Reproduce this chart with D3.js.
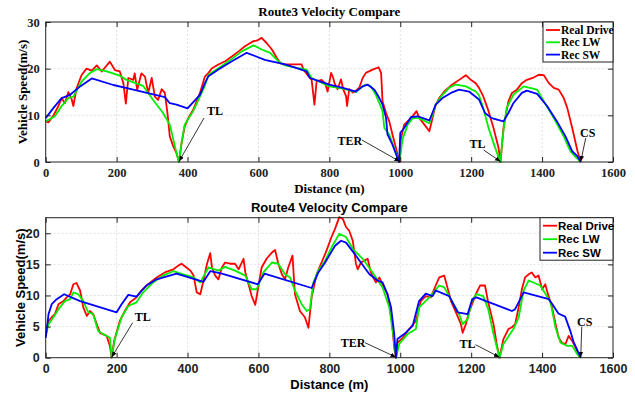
<!DOCTYPE html>
<html>
<head>
<meta charset="utf-8">
<script src="https://cdn.jsdelivr.net/npm/d3@7"></script>
<style>
  body { margin: 0; background: #fff; }
  .serif text { font-family: "Liberation Serif", "Times New Roman", serif; font-weight: bold; }
  .sans text { font-family: "Liberation Sans", Arial, sans-serif; font-weight: bold; }
</style>
</head>
<body>
<div id="chart"></div>
<script>
// ---- Route3 data: [distance (m), speed (m/s)] ----
const route3Real = [
  [0, 8.7], [8, 8.5], [22, 10], [36, 12], [45, 13.7], [54, 12.6], [64, 15], [73, 13.5], [78, 12],
  [87, 15.8], [101, 18.6], [115, 20], [130, 19.6], [144, 20.7], [158, 19.4], [181, 21.5], [195, 19.7],
  [209, 19.4], [219, 16.9], [226, 12.5], [233, 18], [247, 17.6], [251, 19], [258, 15.5], [270, 19],
  [280, 18.3], [289, 14.8], [299, 18], [308, 14], [317, 13.3], [327, 15.6], [336, 14.8], [344, 10.1],
  [350, 5.5], [360, 3.3], [369, 1.9], [376, 0], [383, 4], [392, 7.6], [402, 9.4], [416, 11.2],
  [435, 14.8], [449, 18.3], [459, 19.1], [469, 20.1], [487, 20.9], [506, 21.6], [525, 22.6],
  [544, 23.7], [562, 24.8], [577, 25.5], [586, 25.9], [595, 26], [609, 26.6], [623, 25.5],
  [638, 24.1], [652, 22.3], [661, 21.2], [675, 20.9], [722, 20.9], [727, 19.8], [741, 18.4],
  [750, 17.6], [758, 12.3], [764, 17.3], [778, 17.6], [788, 16.9], [795, 15.1], [805, 19.1],
  [811, 18], [814, 17], [823, 15.6], [833, 17.7], [839, 15.6], [847, 14.1], [850, 12], [856, 15.6],
  [866, 14.9], [875, 15.3], [885, 16], [894, 18], [903, 19.1], [922, 19.8], [939, 20.3], [946, 19.1],
  [950, 13], [960, 10.5], [969, 8.7], [978, 5.9], [988, 3], [997, 0.1], [999, 0], [1002, 5],
  [1011, 8], [1030, 9.4], [1046, 10.9], [1053, 9.5], [1068, 8], [1082, 6.6], [1091, 9.4],
  [1100, 12.3], [1110, 13.7], [1124, 15.1], [1147, 16.6], [1166, 17.6], [1185, 18.6], [1199, 17.6],
  [1213, 16.9], [1222, 15.9], [1234, 14.1], [1249, 10.9], [1263, 7.3], [1277, 3.1], [1283, 0],
  [1291, 7.3], [1305, 13], [1315, 14.8], [1329, 15.5], [1343, 16.9], [1357, 17.6], [1376, 18.1],
  [1391, 18.7], [1405, 18.6], [1419, 16.9], [1433, 15.9], [1447, 15.5], [1461, 13.7], [1471, 11.6],
  [1485, 7.3], [1500, 2.3], [1509, 0]
];
const route3LW = [
  [0, 8.7], [12, 9.2], [26, 9.8], [45, 12], [64, 13.7], [78, 14], [101, 17.2], [125, 19.1],
  [144, 19.9], [172, 19.4], [209, 18.5], [228, 17.6], [275, 16.3], [303, 13.3], [331, 10.5],
  [350, 8], [360, 4.8], [369, 1.9], [376, 0], [383, 4], [392, 8], [416, 10.9], [444, 15.5],
  [450, 16.6], [459, 18.7], [487, 20.1], [525, 22.1], [553, 23.7], [586, 25], [609, 24.1],
  [633, 23.4], [656, 21.6], [675, 20.7], [713, 20.1], [736, 19.8], [750, 18], [769, 17.3],
  [800, 16.2], [838, 15.7], [875, 15], [889, 15.9], [903, 16.6], [917, 16.2], [931, 14.4],
  [941, 12.6], [950, 10.9], [955, 7.3], [969, 5.9], [983, 3], [997, 0], [1007, 5], [1021, 8],
  [1035, 9.4], [1053, 9.4], [1072, 8.7], [1082, 8.3], [1091, 10.1], [1100, 12.3], [1119, 14.4],
  [1138, 15.9], [1157, 16.6], [1185, 16.2], [1213, 15.1], [1222, 14.3], [1234, 11.6], [1249, 7.3],
  [1263, 4.1], [1282, 0], [1291, 6.6], [1300, 11.6], [1319, 14.4], [1348, 16.2], [1386, 15.5],
  [1405, 13], [1433, 9.4], [1461, 5.5], [1480, 2.3], [1490, 1.4], [1509, 0]
];
const route3SW = [
  [0, 9.4], [22, 11.6], [45, 13.7], [69, 14.4], [97, 16.2], [130, 17.9], [191, 16.5], [247, 15.5],
  [336, 13.9], [350, 12.6], [369, 12.3], [400, 11.5], [435, 14.4], [449, 16.9], [459, 18.4],
  [487, 19.8], [525, 21.6], [567, 23.4], [618, 21.9], [675, 20.9], [736, 19.4], [745, 18],
  [769, 17.4], [800, 16.6], [838, 15.9], [875, 15.1], [894, 16.2], [908, 16.6], [927, 15.5],
  [941, 13.7], [950, 12.3], [960, 9.4], [964, 5.9], [978, 3.7], [992, 0.9], [997, 0], [1000, 6.2],
  [1011, 7.3], [1030, 9.6], [1049, 9.8], [1082, 8.9], [1091, 10.6], [1100, 12.3], [1119, 13.7],
  [1143, 14.8], [1166, 15.5], [1194, 15.1], [1222, 13.4], [1239, 10.5], [1258, 9.4], [1291, 8.7],
  [1305, 10.5], [1319, 12.6], [1343, 14.8], [1357, 15.3], [1386, 14.6], [1414, 12], [1442, 8.7],
  [1466, 5.5], [1485, 2.3], [1500, 1.2], [1509, 0]
];

// ---- Route4 data ----
const route4Real = [
  [0, 3.5], [8, 5.9], [17, 6.5], [26, 7], [36, 8.6], [50, 9.1], [59, 9.7], [69, 10.2], [78, 11.8],
  [87, 12], [97, 10.8], [106, 8.1], [116, 6.7], [125, 7.5], [134, 7], [144, 5.4], [153, 4],
  [172, 3.5], [181, 1.9], [186, 0], [193, 2.7], [209, 5.9], [223, 7.5], [238, 8.9], [256, 9.7],
  [270, 10.8], [289, 11.8], [313, 12.9], [336, 13.7], [360, 14.2], [374, 14.8], [383, 15.1],
  [397, 14.5], [408, 14], [417, 13.2], [426, 10.5], [436, 10.2], [445, 12.4], [455, 15.1],
  [464, 16.8], [469, 14.5], [478, 13.2], [487, 12.6], [497, 14.5], [506, 15.3], [520, 15.1],
  [534, 15.1], [544, 14.2], [558, 15.9], [563, 13.7], [572, 11.8], [581, 9.9], [591, 8.5],
  [598, 10.8], [609, 14.5], [623, 15.9], [638, 16.9], [647, 17.3], [656, 15.1], [666, 13.4],
  [675, 12.6], [684, 14.5], [696, 16.4], [703, 10.2], [717, 7.5], [731, 6.5], [741, 4.8],
  [750, 9.7], [764, 13.4], [778, 15.3], [792, 17.2], [806, 19.4], [816, 20.7], [828, 22.6],
  [838, 22.3], [847, 21], [856, 20.4], [866, 18.8], [875, 15.1], [880, 14.2], [889, 15.3],
  [899, 15.6], [908, 15.9], [917, 13.7], [931, 12.1], [941, 12.9], [950, 11.8], [964, 10.2],
  [974, 7], [978, 4.8], [983, 1.6], [988, 0], [992, 2.4], [1007, 3.2], [1025, 4.6], [1044, 5.9],
  [1058, 9.1], [1072, 9.9], [1086, 9.7], [1100, 11.6], [1110, 12.9], [1124, 13.2], [1133, 11.3],
  [1143, 9.1], [1157, 7.3], [1171, 5.4], [1176, 4], [1185, 5.4], [1194, 7.3], [1213, 10.2],
  [1225, 11.6], [1239, 11.6], [1248, 8.9], [1263, 5.4], [1272, 2.2], [1280, 0], [1291, 3],
  [1305, 4.6], [1315, 4.9], [1324, 5.4], [1334, 8.1], [1343, 11], [1352, 12.9], [1362, 13.4],
  [1371, 13.7], [1381, 12.9], [1390, 13.2], [1400, 11], [1409, 11.8], [1415, 10.5], [1428, 8.1],
  [1438, 5.4], [1447, 3.2], [1456, 2.4], [1466, 2.2], [1475, 3.5], [1485, 2.7], [1495, 1.6],
  [1504, 0.3], [1509, 0]
];
const route4LW = [
  [0, 3.5], [8, 5.4], [22, 6.5], [36, 7.8], [54, 9.1], [69, 9.4], [78, 10.5], [92, 10.2],
  [106, 9.1], [120, 7.3], [134, 7], [148, 4.3], [162, 3.8], [181, 3.2], [186, 0], [195, 3],
  [214, 6.5], [233, 8.3], [256, 8.9], [275, 10.5], [303, 12.1], [331, 13.2], [360, 13.9],
  [388, 13.4], [417, 12.9], [436, 12.1], [459, 14.5], [487, 14], [506, 14.6], [534, 14],
  [563, 13.2], [581, 11], [595, 11], [614, 13.7], [638, 15.3], [656, 15.1], [675, 13.4],
  [689, 12.9], [703, 10.8], [722, 8.6], [736, 7.5], [745, 7.8], [755, 12.1], [769, 14],
  [788, 15.6], [806, 17.7], [828, 19.9], [847, 19.4], [866, 17.5], [894, 15.9], [922, 13.7],
  [950, 11.3], [969, 8.1], [980, 3.8], [988, 0], [997, 2.2], [1021, 3.8], [1044, 4.6],
  [1053, 8.1], [1082, 9.7], [1110, 11.6], [1124, 11.3], [1143, 9.4], [1166, 7], [1176, 5.4],
  [1190, 6.2], [1203, 9.4], [1215, 10.2], [1234, 9.9], [1248, 7.8], [1263, 3.8], [1280, 0],
  [1291, 2.2], [1319, 4.6], [1334, 6.5], [1348, 10.8], [1362, 12.4], [1395, 11.6], [1424, 8.9],
  [1438, 4.8], [1452, 2.4], [1471, 1.9], [1485, 1.9], [1500, 0.5], [1509, 0]
];
const route4SW = [
  [0, 3.2], [8, 7], [17, 8.6], [31, 9.4], [52, 10.2], [97, 9.1], [200, 7.3], [214, 8.6],
  [233, 10.1], [256, 9.8], [284, 11.6], [313, 12.6], [369, 13.5], [445, 12.2], [464, 13.9],
  [497, 13.5], [598, 11.8], [617, 13.5], [750, 11.2], [769, 13.7], [788, 15.3], [816, 18],
  [833, 18.8], [847, 18.5], [875, 16.4], [913, 13.4], [936, 12.4], [950, 12.1], [964, 10.2],
  [974, 8.1], [983, 3.8], [988, 0], [992, 3], [1011, 3.8], [1035, 5.1], [1053, 9.1], [1072, 10.3],
  [1091, 9.9], [1100, 10.8], [1138, 9.9], [1162, 7.3], [1190, 7], [1203, 9.4], [1215, 9.7],
  [1315, 7.5], [1324, 7.8], [1348, 10.5], [1419, 9.4], [1430, 8.5], [1446, 7.1], [1465, 6.6],
  [1479, 4.4], [1489, 2.5], [1509, 0]
];

// stop annotations: label and stop distance (m)
const route3Stops = [["TL", 376], ["TER", 999], ["TL", 1283], ["CS", 1509]];
const route4Stops = [["TL", 186], ["TER", 988], ["TL", 1280], ["CS", 1509]];

const seriesNames = ["Real Drive", "Rec LW", "Rec SW"];
const seriesColors = ["#ff0000", "#00ee00", "#0000ff"];
const xTicks = [0, 200, 400, 600, 800, 1000, 1200, 1400, 1600];
const route3YTicks = [0, 10, 20, 30];
const route4YTicks = [0, 5, 10, 15, 20];

const W = 635, H = 398;
const svg = d3.select("#chart").append("svg")
  .attr("width", W).attr("height", H);

svg.append("defs").append("marker")
  .attr("id", "arrow")
  .attr("viewBox", "0 0 10 10")
  .attr("refX", 10).attr("refY", 5)
  .attr("markerWidth", 7).attr("markerHeight", 7)
  .attr("orient", "auto")
  .append("path")
  .attr("d", "M0,1 L10,5 L0,9 Z")
  .attr("fill", "#000");

function drawPanel(opt) {
  const left = 45.7, right = 613;
  const g = svg.append("g").attr("class", opt.cls);

  const x = d3.scaleLinear().domain([0, 1600]).range([left, right]);
  const y = d3.scaleLinear().domain([0, opt.yMax]).range([opt.bottom, opt.top]);

  // grid
  g.append("g").selectAll("line.gx")
    .data(xTicks.slice(1, -1))
    .enter().append("line")
    .attr("x1", d => x(d)).attr("x2", d => x(d))
    .attr("y1", opt.top).attr("y2", opt.bottom)
    .attr("stroke", "#d8d8d8").attr("stroke-dasharray", "2,2").attr("stroke-width", 0.8);
  g.append("g").selectAll("line.gy")
    .data(opt.yTicks.filter(d => d > 0 && d < opt.yMax))
    .enter().append("line")
    .attr("x1", left).attr("x2", right)
    .attr("y1", d => y(d)).attr("y2", d => y(d))
    .attr("stroke", "#d8d8d8").attr("stroke-dasharray", "2,2").attr("stroke-width", 0.8);

  // lines (MATLAB plot order: red, green, blue)
  const line = d3.line().x(d => x(d[0])).y(d => y(d[1]));
  opt.series.forEach((s, i) => {
    g.append("path")
      .datum(s)
      .attr("d", line)
      .attr("fill", "none")
      .attr("stroke", seriesColors[i])
      .attr("stroke-width", 1.8)
      .attr("stroke-linejoin", "round");
  });

  // axes (inward ticks, box)
  const xAxis = d3.axisBottom(x).tickValues(xTicks).tickFormat(d3.format("d"))
    .tickSizeInner(-5).tickSizeOuter(0).tickPadding(6);
  const yAxis = d3.axisLeft(y).tickValues(opt.yTicks).tickFormat(d3.format("d"))
    .tickSizeInner(-5).tickSizeOuter(0).tickPadding(6);
  const xa = g.append("g").attr("transform", "translate(0," + opt.bottom + ")").call(xAxis);
  const ya = g.append("g").attr("transform", "translate(" + left + ",0)").call(yAxis);
  g.append("g").attr("transform", "translate(0," + opt.top + ")")
    .call(d3.axisTop(x).tickValues(xTicks).tickSizeInner(-5).tickSizeOuter(0).tickFormat(""));
  g.append("g").attr("transform", "translate(" + right + ",0)")
    .call(d3.axisRight(y).tickValues(opt.yTicks).tickSizeInner(-5).tickSizeOuter(0).tickFormat(""));
  g.selectAll(".domain").remove();
  g.selectAll(".tick line").attr("stroke", "#222");
  [xa, ya].forEach(a => a.selectAll("text")
    .style("font-size", "12.5px").attr("fill", "#222"));

  g.append("rect")
    .attr("x", left).attr("y", opt.top)
    .attr("width", right - left).attr("height", opt.bottom - opt.top)
    .attr("fill", "none").attr("stroke", "#222").attr("stroke-width", 1);

  // titles and labels
  g.append("text")
    .attr("x", (left + right) / 2).attr("y", opt.top - 6)
    .attr("text-anchor", "middle").style("font-size", "13px")
    .text(opt.title);
  g.append("text")
    .attr("x", (left + right) / 2).attr("y", opt.bottom + 31)
    .attr("text-anchor", "middle").style("font-size", "13px")
    .text("Distance (m)");
  g.append("text")
    .attr("transform", "rotate(-90)")
    .attr("x", -(opt.top + opt.bottom) / 2).attr("y", opt.yLabelX)
    .attr("text-anchor", "middle").style("font-size", "13px")
    .text("Vehicle Speed(m/s)");

  // stop annotations
  opt.stops.forEach((s, i) => {
    const off = opt.stopOffsets[i];
    const tx = x(s[1]) + off[0], ty = y(0) + off[1];
    g.append("text")
      .attr("class", "ann")
      .attr("x", tx).attr("y", ty)
      .attr("text-anchor", off[2])
      .style("font-family", "'Liberation Serif', serif")
      .style("font-size", "12px")
      .text(s[0]);
    g.append("line")
      .attr("x1", x(s[1]) + off[3]).attr("y1", y(0) + off[4])
      .attr("x2", x(s[1])).attr("y2", y(0) - 0.5)
      .attr("stroke", "#000").attr("stroke-width", 0.8)
      .attr("marker-end", "url(#arrow)");
  });

  // legend
  const lg = g.append("g");
  lg.append("rect")
    .attr("x", opt.legend.x).attr("y", opt.top)
    .attr("width", right - opt.legend.x).attr("height", opt.legend.h)
    .attr("fill", "#fff").attr("stroke", "#222").attr("stroke-width", 1);
  seriesNames.forEach((n, i) => {
    const ly = opt.top + opt.legend.dy0 + i * opt.legend.step;
    lg.append("line")
      .attr("x1", opt.legend.x + 3).attr("x2", opt.legend.x + 17)
      .attr("y1", ly).attr("y2", ly)
      .attr("stroke", seriesColors[i]).attr("stroke-width", 1.8);
    lg.append("text")
      .attr("x", opt.legend.x + 18).attr("y", ly + 4)
      .style("font-size", opt.legend.fs)
      .text(n);
  });
}

drawPanel({
  cls: "serif",
  title: "Route3 Velocity Compare",
  top: 22, bottom: 162, yMax: 30, yTicks: route3YTicks,
  series: [route3Real, route3LW, route3SW],
  stops: route3Stops,
  // [text dx, text dy, anchor, line start dx, line start dy]
  stopOffsets: [[36, -47, "middle", 25, -44], [-50, -17, "middle", -38, -22], [-23, -14, "middle", -17, -12], [7, -25, "middle", 5, -24]],
  yLabelX: 27,
  legend: { x: 543, h: 40, dy0: 8, step: 12.3, fs: "11.5px" }
});

drawPanel({
  cls: "sans",
  title: "Route4 Velocity Compare",
  top: 217.7, bottom: 357.7, yMax: 22.5, yTicks: route4YTicks,
  series: [route4Real, route4LW, route4SW],
  stops: route4Stops,
  stopOffsets: [[31, -37, "middle", 21, -35], [-43, -11, "middle", -31, -15], [-32, -10, "middle", -24, -13], [4, -32, "middle", 1, -31]],
  yLabelX: 25,
  legend: { x: 540, h: 42.5, dy0: 8, step: 13.5, fs: "11.5px" }
});
</script>
</body>
</html>
